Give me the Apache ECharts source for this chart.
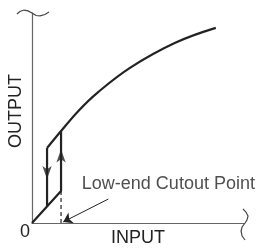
<!DOCTYPE html>
<html>
<head>
<meta charset="utf-8">
<script src="https://cdn.jsdelivr.net/npm/echarts@6/dist/echarts.min.js"></script>
<style>
  html, body { margin: 0; padding: 0; background: #fff; }
  #chart { width: 262px; height: 248px; }
</style>
</head>
<body>
<div id="chart"></div>
<script>
// Data (axis units 0..100)
const mainCurve = [[7.1, 35.7], [13.7, 43.8], [22, 53.5], [30.8, 62], [46.4, 74], [67.3, 85.7], [86.7, 92.9]];
const dropLine = [[7.1, 35.7], [7.1, 7.9]];
const riseLine = [[0, 0], [13.7, 15.2], [13.7, 43.8]];
const cutoutDash = [[13.7, 0], [13.7, 15.2]];
const downArrow = [[7.1, 21]];
const upArrow = [[13.7, 35]];
const pointerLine = [[36, 11.4], [14.7, 0.5]];
const noteLabel = [[23.5, 18.6]];
const noteText = "Low-end Cutout Point";
// axis break marks
const topBreak = [[-7.1, 99.5], [-5.7, 100.7], [-3.8, 101.4], [-1.9, 101], [0, 100], [1.9, 98.8], [3.8, 98.6], [6.1, 99.3], [8, 100.5]];
const rightBreak = [[99.5, 6.7], [100.9, 5.2], [101.9, 3.3], [101.4, 1.4], [100.5, 0], [99.1, -1.9], [98.6, -3.8], [99.1, -6.2], [100.5, -8.1]];
const xTicks = ["0"];
const xName = "INPUT";
const yName = "OUTPUT";

const chart = echarts.init(document.getElementById("chart"));
const font = "Liberation Sans, Arial, sans-serif";
const ink = "#222";

const option = {
  animation: false,
  grid: { left: 32, right: 18, top: 13, bottom: 25, outerBoundsMode: "none", containLabel: false },
  xAxis: {
    type: "value",
    min: 0,
    max: 100,
    interval: 100,
    axisLine: { show: true, lineStyle: { color: "#666", width: 1.2 } },
    axisTick: { show: false },
    splitLine: { show: false },
    axisLabel: {
      formatter: (v) => (v === 0 ? xTicks[0] : ""),
      fontSize: 18,
      fontFamily: font,
      color: ink,
      align: "right",
      margin: 0,
      padding: [0, 2, 0, 0],
    },
    name: xName,
    nameLocation: "middle",
    nameGap: 6,
    nameMoveOverlap: false,
    nameTextStyle: { fontSize: 18, fontFamily: font, color: ink, verticalAlign: "top" },
  },
  yAxis: {
    type: "value",
    min: 0,
    max: 100,
    interval: 100,
    axisLine: { show: true, lineStyle: { color: "#666", width: 1.2 } },
    axisTick: { show: false },
    splitLine: { show: false },
    axisLabel: { show: false },
    name: yName,
    nameLocation: "middle",
    nameGap: 7,
    nameMoveOverlap: false,
    nameTextStyle: { fontSize: 18, fontFamily: font, color: ink, padding: [0, 0, 0, 14] },
  },
  series: [
    {
      type: "line",
      data: mainCurve,
      smooth: 0.4,
      showSymbol: false,
      lineStyle: { color: ink, width: 2.2 },
    },
    {
      type: "line",
      data: dropLine,
      showSymbol: false,
      lineStyle: { color: ink, width: 2.2 },
    },
    {
      type: "line",
      data: riseLine,
      showSymbol: false,
      lineStyle: { color: ink, width: 2.2 },
    },
    {
      type: "line",
      data: cutoutDash,
      showSymbol: false,
      lineStyle: { color: ink, width: 1.2, type: [4, 3] },
    },
    {
      type: "scatter",
      data: downArrow,
      symbol: "arrow",
      symbolSize: [7, 13],
      symbolRotate: 180,
      itemStyle: { color: ink },
    },
    {
      type: "scatter",
      data: upArrow,
      symbol: "arrow",
      symbolSize: [7, 13],
      itemStyle: { color: ink },
    },
    {
      type: "lines",
      coordinateSystem: "cartesian2d",
      data: [{ coords: pointerLine }],
      symbol: ["none", "arrow"],
      symbolSize: 9,
      lineStyle: { color: ink, width: 1, opacity: 1 },
    },
    {
      type: "scatter",
      data: noteLabel,
      symbolSize: 0,
      label: {
        show: true,
        formatter: noteText,
        position: "right",
        distance: 0,
        fontSize: 18,
        fontFamily: font,
        color: ink,
      },
    },
    {
      type: "lines",
      coordinateSystem: "cartesian2d",
      polyline: true,
      clip: false,
      data: [{ coords: topBreak }, { coords: rightBreak }],
      lineStyle: { color: "#444", width: 1.2, opacity: 1 },
    },
  ],
};

chart.setOption(option);
</script>
</body>
</html>
